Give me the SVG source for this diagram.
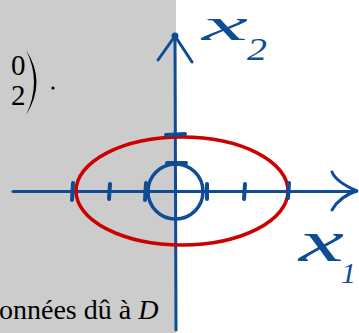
<svg xmlns="http://www.w3.org/2000/svg" width="359" height="333" viewBox="0 0 359 333">
<style>
.ax{fill:none;stroke:#0f4c96;stroke-width:3;stroke-linecap:round;stroke-linejoin:round}
.tk{fill:none;stroke:#0f4c96;stroke-width:4;stroke-linecap:round}
.hw{fill:#0f4c96;font-family:'Liberation Serif','Times New Roman','DejaVu Serif',serif;font-style:italic}
.tx{fill:#000;font-family:'Liberation Serif','Times New Roman','DejaVu Serif',serif}
</style>
<rect x="0" y="0" width="176" height="333" fill="#cccccc"/>
<rect x="176" y="0" width="183" height="333" fill="#ffffff"/>
<g id="matrix">
<text class="tx" x="11" y="75" font-size="29">0</text>
<text class="tx" x="11" y="105" font-size="29">2</text>
<path d="M26,50 Q47,82 26,115 Q42,82 26,50 Z" fill="#000"/>
<circle cx="53" cy="88" r="1.6" fill="#000"/>
</g>
<g id="caption">
<text class="tx" x="-1" y="319" font-size="28">onnées dû à <tspan font-style="italic">D</tspan></text>
</g>
<g id="connectors">
<path class="ax" d="M176,330 L175,36"/>
<path class="ax" d="M158,60 L175,36 L192,62" stroke-width="4"/>
<circle cx="175" cy="36" r="3.5" fill="#0f4c96"/>
<path class="ax" d="M13,191.5 L356,191.5"/>
<path class="ax" d="M332,172 Q336,182 357,191 Q340,196 332,210" stroke-width="5"/>
</g>
<g id="ellipse">
<ellipse cx="182" cy="191" rx="106" ry="54" fill="none" stroke="#cc0000" stroke-width="3.5"/>
</g>
<g id="circle">
<circle cx="175.5" cy="191.5" r="27.5" fill="none" stroke="#0f4c96" stroke-width="3.5"/>
</g>
<g id="ticks">
<path class="tk" d="M73,183 L72,200"/>
<path class="tk" d="M110,184 L109,199"/>
<path class="tk" d="M146,183 L145,200"/>
<path class="tk" d="M207,184 L207,199"/>
<path class="tk" d="M245,184 L244,199"/>
<path class="tk" d="M289,183 L288,198"/>
<path class="tk" d="M166,135 L185,134"/>
<path class="tk" d="M167,163 L186,163"/>
</g>
<g id="label-x2">
<text class="hw" x="202" y="40" font-size="46" textLength="46" lengthAdjust="spacingAndGlyphs">x</text>
<text class="hw" x="247" y="60" font-size="32" textLength="20" lengthAdjust="spacingAndGlyphs" font-style="normal">2</text>
</g>
<g id="label-x1">
<text class="hw" x="299" y="261" font-size="60" textLength="45" lengthAdjust="spacingAndGlyphs">x</text>
<text class="hw" x="341" y="283" font-size="30" textLength="15" lengthAdjust="spacingAndGlyphs" font-style="normal">1</text>
</g>
</svg>
